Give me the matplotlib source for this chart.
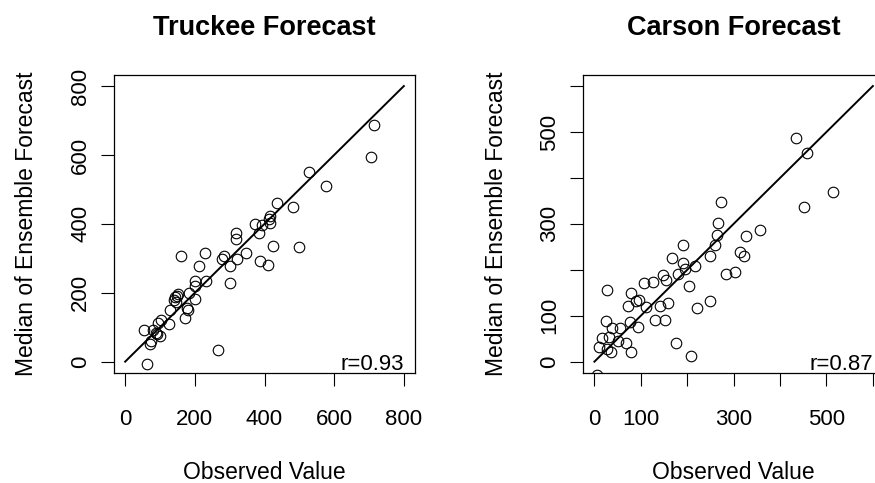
import matplotlib.pyplot as plt

plt.rcParams['font.family'] = ['Liberation Sans', 'DejaVu Sans']

# Truckee: observed vs median ensemble forecast
truckee_obs = [715, 705, 528, 577, 437, 483, 415, 412, 374, 392, 417, 385, 317, 317,
               423, 498, 347, 283, 278, 321, 228, 161, 212, 300, 386, 411, 300, 231,
               200, 200, 182, 201, 152, 144, 141, 145, 128, 178, 179, 172, 125, 103,
               93, 55, 80, 91, 101, 74, 72, 266, 62, 89, 148]
truckee_fc = [687, 594, 551, 511, 461, 448, 422, 414, 400, 398, 402, 374, 374, 357,
              335, 334, 316, 307, 299, 299, 316, 306, 277, 277, 293, 280, 229, 233,
              233, 219, 199, 183, 196, 188, 178, 173, 151, 157, 151, 128, 109, 122,
              113, 92, 93, 80, 75, 61, 50, 34, -7, 82, 190]

# Carson: observed vs median ensemble forecast
carson_obs = [435, 458, 514, 451, 272, 267, 264, 260, 356, 326, 313, 322, 250, 191,
              168, 191, 217, 196, 181, 148, 155, 127, 107, 283, 303, 204, 78, 27,
              97, 90, 73, 111, 142, 158, 222, 250, 130, 152, 76, 94, 25, 38, 55,
              17, 32, 50, 68, 9, 27, 35, 79, 175, 209, 6]
carson_fc = [487, 455, 370, 336, 347, 301, 276, 253, 286, 274, 239, 231, 231, 253,
             225, 214, 208, 201, 191, 188, 178, 173, 171, 191, 195, 165, 150, 155,
             134, 131, 121, 118, 121, 127, 117, 132, 91, 91, 87, 76, 89, 74, 73,
             51, 53, 46, 40, 31, 27, 20, 20, 40, 12, -30]

truckee_ticks = [0, 200, 400, 600, 800]
truckee_labels = ['0', '200', '400', '600', '800']
carson_ticks = [0, 100, 200, 300, 400, 500, 600]
carson_labels = ['0', '100', '', '300', '', '500', '']


def panel(ax, obs, fc, top, ticks, labels, title, rtext):
    ax.plot(obs, fc, 'o', mfc='none', mec='black', ms=7.6, mew=0.8)
    ax.plot([0, top], [0, top], color='black', lw=1.4)
    pad = 0.04 * top
    ax.set_xlim(-pad, top + pad)
    ax.set_ylim(-pad, top + pad)
    ax.set_xticks(ticks)
    ax.set_xticklabels(labels)
    ax.set_yticks(ticks)
    ax.set_yticklabels(labels, rotation=90, va='center')
    ax.tick_params(axis='both', length=9.5, width=0.8, labelsize=16)
    ax.tick_params(axis='x', pad=17)
    ax.tick_params(axis='y', pad=7)
    for s in ax.spines.values():
        s.set_linewidth(0.9)
    ax.set_title(title, fontsize=19.5, fontweight='bold', pad=28.8)
    ax.set_xlabel('Observed Value', fontsize=16.5)
    ax.set_ylabel('Median of Ensemble Forecast', fontsize=16.5)
    ax.xaxis.set_label_coords(0.5, -0.296)
    ax.text(1 - 11 / 301, 0.009, rtext, transform=ax.transAxes,
            ha='right', va='baseline', fontsize=16)


fig = plt.figure(figsize=(8.75, 4.83), dpi=100)
ax1 = fig.add_axes([0.1303, 0.2284, 0.344, 0.6163])
ax2 = fig.add_axes([0.6666, 0.2284, 0.3437, 0.6163])

panel(ax1, truckee_obs, truckee_fc, 800, truckee_ticks, truckee_labels,
      'Truckee Forecast', 'r=0.93')
panel(ax2, carson_obs, carson_fc, 600, carson_ticks, carson_labels,
      'Carson Forecast', 'r=0.87')
ax1.yaxis.set_label_coords(-0.2535, 0.5)
ax2.yaxis.set_label_coords(-0.2514, 0.5)

fig.savefig('out.png', dpi=100)
